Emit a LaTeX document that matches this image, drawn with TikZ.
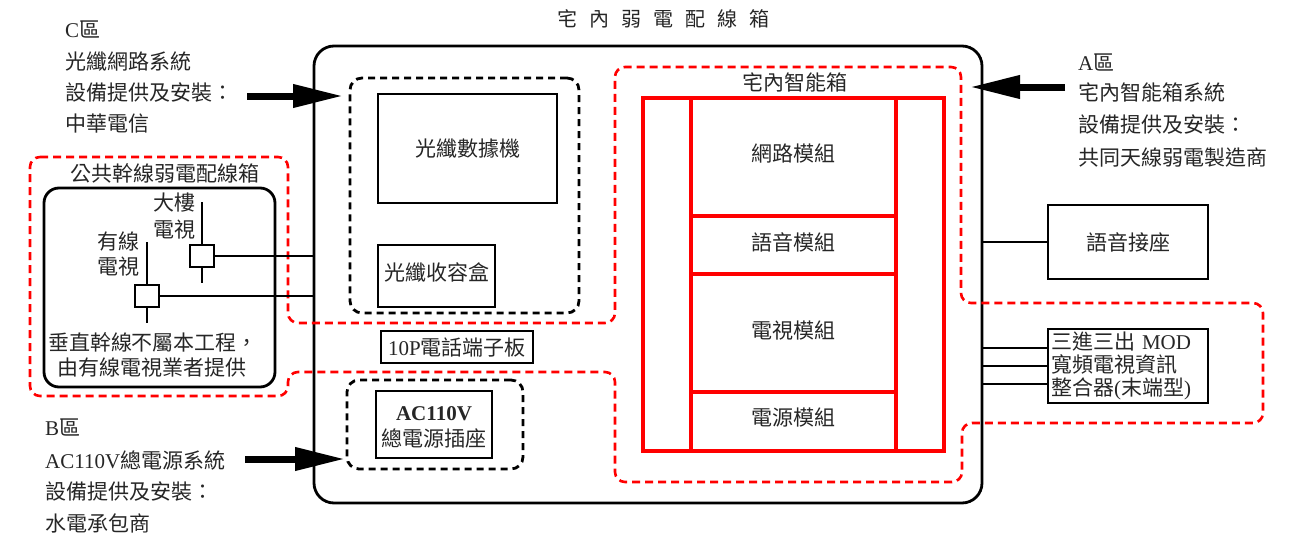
\documentclass[tikz,border=0pt]{standalone}
\usepackage{fontspec}
\setmainfont{Noto Sans CJK TC}
\newfontfamily\lat{Liberation Serif}
\usetikzlibrary{arrows.meta}
\begin{document}
\begin{tikzpicture}[x=1pt,y=-1pt,
  every node/.style={font=\fontsize{21}{24}\selectfont, text=black!85},
  txt/.style={inner sep=0pt},
  blk/.style={draw=black, line width=2.8pt, inner sep=0pt},
  blkdash/.style={draw=black, line width=2.8pt, dash pattern=on 7pt off 5pt, rounded corners=12pt, inner sep=0pt},
  redbox/.style={draw=red, line width=3.2pt, inner sep=0pt},
  reddash/.style={draw=red, line width=2.6pt, dash pattern=on 8pt off 5pt, rounded corners=10pt},
  bigarrow/.style={line width=7pt, -{Triangle[length=50pt,width=22pt]}},
  wire/.style={line width=2.6pt}
]
\useasboundingbox (0,0) rectangle (1304,538);

% title
\node[txt, font=\fontsize{20}{24}\selectfont] (title) at (663,19) {宅\hspace{12pt}內\hspace{12pt}弱\hspace{12pt}電\hspace{12pt}配\hspace{12pt}線\hspace{12pt}箱};

% main box
\node[blk, rounded corners=20pt, minimum width=668pt, minimum height=457pt] (main) at (648,274.5) {};

% red dashed outline
\draw[reddash] (30,157) -- (288,157) -- (288,323) -- (615,323) -- (615,67) -- (961,67) -- (961,303) -- (1263,303) -- (1263,423) -- (962,423) -- (962,482) -- (615,482) -- (615,372) -- (288,372) -- (288,396) -- (30,396) -- cycle;

% C zone text
\node[txt, anchor=west] (c1) at (65,30) {{\lat C}區};
\node[txt, anchor=west] (c2) at (65,62) {光纖網路系統};
\node[txt, anchor=west] (c3) at (65,93) {設備提供及安裝：};
\node[txt, anchor=west] (c4) at (65,124) {中華電信};

% B zone text
\node[txt, anchor=west] (b1) at (45,428) {{\lat B}區};
\node[txt, anchor=west] (b2) at (45,460) {{\lat AC110V}總電源系統};
\node[txt, anchor=west] (b3) at (45,492) {設備提供及安裝：};
\node[txt, anchor=west] (b4) at (45,523) {水電承包商};

% A zone text
\node[txt, anchor=west] (a1) at (1078,63) {{\lat A}區};
\node[txt, anchor=west] (a2) at (1078,93) {宅內智能箱系統};
\node[txt, anchor=west] (a3) at (1078,125) {設備提供及安裝：};
\node[txt, anchor=west] (a4) at (1078,157) {共同天線弱電製造商};

% fiber group
\node[blkdash, minimum width=229pt, minimum height=235pt] (fiber) at (464.5,195.5) {};
\node[blk, minimum width=179pt, minimum height=109pt] (modem) at (467.5,148.5) {光纖數據機};
\node[blk, minimum width=117pt, minimum height=62pt] (fbox) at (436.5,276) {};
\node[txt] (fboxt) at (436.5,273) {光纖收容盒};

% 10P
\node[blk, minimum width=152pt, minimum height=32pt] (tp) at (457,347) {{\lat 10P}電話端子板};

% AC group
\node[blkdash, minimum width=176pt, minimum height=89pt] (acg) at (435,424.5) {};
\node[blk, minimum width=116pt, minimum height=67pt] (ac) at (434,424.5) {};
\node[txt] (ac1) at (434,414) {\lat\bfseries AC110V};
\node[txt] (ac2) at (434,438) {總電源插座};

% public trunk box
\node[txt] (pubt) at (165,173) {公共幹線弱電配線箱};
\node[blk, rounded corners=15pt, minimum width=231pt, minimum height=199pt] (pub) at (159.5,287.5) {};
\node[blk, fill=white, minimum width=24pt, minimum height=22pt] (tvA) at (202,256) {};
\node[blk, fill=white, minimum width=24pt, minimum height=22pt] (tvB) at (147,296) {};
\coordinate (vA1) at (202,202);
\coordinate (vA2) at (202,283);
\coordinate (vB1) at (147,242);
\coordinate (vB2) at (147,323);
\draw[wire] (vA1) -- (tvA.north);
\draw[wire] (tvA.south) -- (vA2);
\draw[wire] (vB1) -- (tvB.north);
\draw[wire] (tvB.south) -- (vB2);
\draw[wire] (tvA.east) -- (tvA.east -| main.west);
\draw[wire] (tvB.east) -- (tvB.east -| main.west);
\node[txt] (lbA1) at (174,203) {大樓};
\node[txt] (lbA2) at (174,230) {電視};
\node[txt] (lbB1) at (118,242) {有線};
\node[txt] (lbB2) at (118,267) {電視};
\node[txt] (note1) at (153,342) {垂直幹線不屬本工程，};
\node[txt] (note2) at (152,368) {由有線電視業者提供};

% smart box
\node[txt] (smt) at (795,82) {宅內智能箱};
\node[redbox, minimum width=301pt, minimum height=353pt] (smart) at (793.5,274.5) {};
\node[redbox, minimum width=48pt, minimum height=353pt] (lcol) at (667,274.5) {};
\node[redbox, minimum width=48pt, minimum height=353pt] (rcol) at (920,274.5) {};
\node[redbox, minimum width=205pt, minimum height=118pt] (mnet) at (793.5,157) {};
\node[txt] (mnett) at (793.5,153) {網路模組};
\node[redbox, minimum width=205pt, minimum height=58pt] (mvoice) at (793.5,245) {};
\node[txt] (mvoicet) at (793.5,242) {語音模組};
\node[redbox, minimum width=205pt, minimum height=118pt] (mtv) at (793.5,333) {};
\node[txt] (mtvt) at (793.5,331) {電視模組};
\node[redbox, minimum width=205pt, minimum height=59pt] (mpow) at (793.5,421.5) {};
\node[txt] (mpowt) at (793.5,417) {電源模組};

% right side
\node[blk, minimum width=160pt, minimum height=74pt] (jack) at (1128,242) {語音接座};
\draw[wire] (jack.west) -- (jack.west -| main.east);
\node[blk, minimum width=160pt, minimum height=74pt, text width=154pt, align=left, inner sep=3pt,
  font=\fontsize{21}{23}\selectfont] (mod) at (1128,366) {三進三出{\lat\ MOD}\\寬頻電視資訊\\整合器{\lat(}末端型{\lat)}};
\draw[wire] ([yshift=18pt]mod.west) -- ([yshift=18pt]mod.west -| main.east);
\draw[wire] (mod.west) -- (mod.west -| main.east);
\draw[wire] ([yshift=-18pt]mod.west) -- ([yshift=-18pt]mod.west -| main.east);

% arrows
\coordinate (cS) at (247,96);
\coordinate (cE) at (343,96);
\draw[bigarrow] (cS) -- (cE);
\coordinate (bS) at (245,459);
\coordinate (bE) at (345,459);
\draw[bigarrow] (bS) -- (bE);
\coordinate (aS) at (1065,87);
\coordinate (aE) at (970,87);
\draw[bigarrow] (aS) -- (aE);
\end{tikzpicture}
\end{document}
